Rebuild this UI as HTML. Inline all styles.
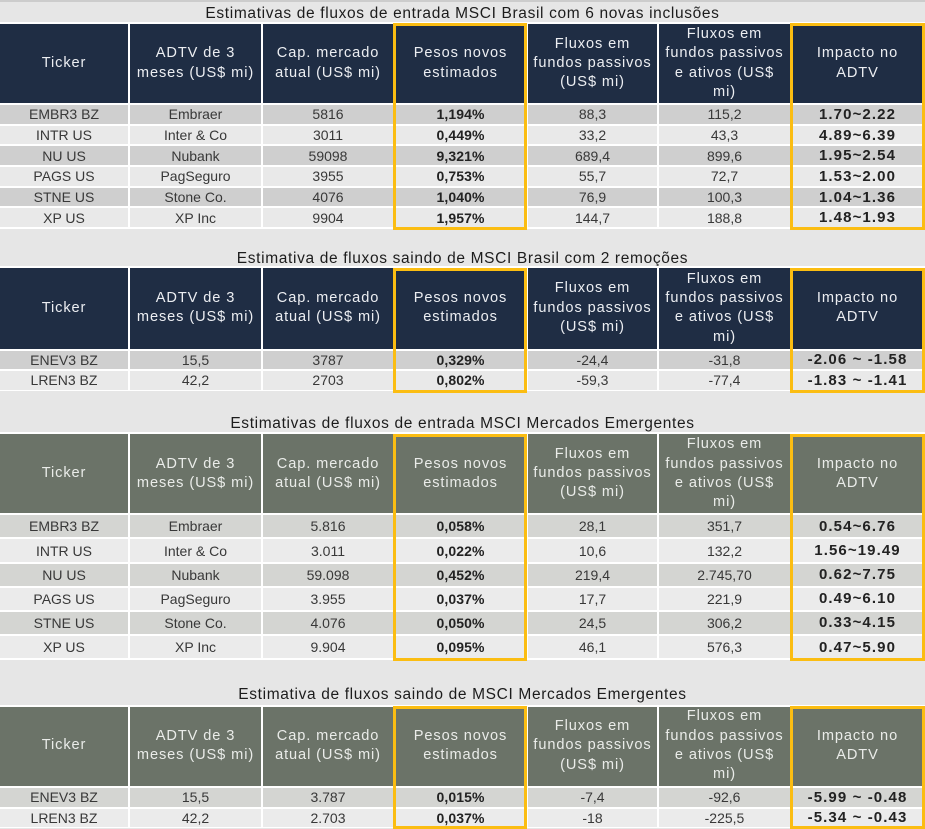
<!DOCTYPE html>
<html><head><meta charset="utf-8">
<style>
*{box-sizing:border-box}
html,body{margin:0;padding:0}
body{width:925px;height:829px;background:#e6e6e6;position:relative;overflow:hidden;font-family:"Liberation Sans",Arial,sans-serif}
.strip{position:absolute;left:0;top:0;width:925px;height:2px;background:#cccccc}
.title{position:absolute;left:0;width:925px;text-align:center;font-size:15.5px;line-height:18px;letter-spacing:0.65px;color:#1c1c1c;white-space:nowrap}
.t{position:absolute;left:0;width:925px;display:grid;grid-template-columns:128px 131px 130px 131px 129px 131px 131px;gap:2px;background:#fff;padding:2px 2px 1.5px 0}
.h{background:#1f2d44;color:#eceef2;display:flex;align-items:center;justify-content:center;text-align:center;font-size:14.6px;letter-spacing:0.9px;line-height:19.3px;white-space:nowrap}
.g .h{background:#6b7368;color:#eaece9}
.c{display:flex;align-items:center;justify-content:center;font-size:14px;color:#383838;white-space:nowrap}
.d{background:#cfcfcf}
.l{background:#e9e9e9}
.g .d{background:#d4d5d2}
.g .l{background:#ebebeb}
.b{font-weight:bold;color:#222;letter-spacing:0.1px}
.i{font-weight:bold;color:#222;font-size:15px;letter-spacing:1.1px}
.y{position:absolute;border:3px solid #fbbd12}
</style></head><body>
<div class="strip"></div>

<div class="title" style="top:5px">Estimativas de fluxos de entrada MSCI Brasil com 6 novas inclusões</div>
<div class="t" style="top:22px;grid-template-rows:79px repeat(6,18.7px)">
<div class="h">Ticker</div><div class="h">ADTV de 3<br>meses (US$ mi)</div><div class="h">Cap. mercado<br>atual (US$ mi)</div><div class="h">Pesos novos<br>estimados</div><div class="h">Fluxos em<br>fundos passivos<br>(US$ mi)</div><div class="h">Fluxos em<br>fundos passivos<br>e ativos (US$<br>mi)</div><div class="h">Impacto no<br>ADTV</div>
<div class="c d">EMBR3 BZ</div><div class="c d">Embraer</div><div class="c d">5816</div><div class="c d b">1,194%</div><div class="c d">88,3</div><div class="c d">115,2</div><div class="c d i">1.70~2.22</div>
<div class="c l">INTR US</div><div class="c l">Inter &amp; Co</div><div class="c l">3011</div><div class="c l b">0,449%</div><div class="c l">33,2</div><div class="c l">43,3</div><div class="c l i">4.89~6.39</div>
<div class="c d">NU US</div><div class="c d">Nubank</div><div class="c d">59098</div><div class="c d b">9,321%</div><div class="c d">689,4</div><div class="c d">899,6</div><div class="c d i">1.95~2.54</div>
<div class="c l">PAGS US</div><div class="c l">PagSeguro</div><div class="c l">3955</div><div class="c l b">0,753%</div><div class="c l">55,7</div><div class="c l">72,7</div><div class="c l i">1.53~2.00</div>
<div class="c d">STNE US</div><div class="c d">Stone Co.</div><div class="c d">4076</div><div class="c d b">1,040%</div><div class="c d">76,9</div><div class="c d">100,3</div><div class="c d i">1.04~1.36</div>
<div class="c l">XP US</div><div class="c l">XP Inc</div><div class="c l">9904</div><div class="c l b">1,957%</div><div class="c l">144,7</div><div class="c l">188,8</div><div class="c l i">1.48~1.93</div>
</div>
<div class="y" style="left:393px;top:23px;width:134px;height:207px"></div>
<div class="y" style="left:790px;top:23px;width:135px;height:207px"></div>

<div class="title" style="top:249.5px">Estimativa de fluxos saindo de MSCI Brasil com 2 remoções</div>
<div class="t" style="top:266px;grid-template-rows:80.5px 18.5px 18.5px">
<div class="h">Ticker</div><div class="h">ADTV de 3<br>meses (US$ mi)</div><div class="h">Cap. mercado<br>atual (US$ mi)</div><div class="h">Pesos novos<br>estimados</div><div class="h">Fluxos em<br>fundos passivos<br>(US$ mi)</div><div class="h">Fluxos em<br>fundos passivos<br>e ativos (US$<br>mi)</div><div class="h">Impacto no<br>ADTV</div>
<div class="c d">ENEV3 BZ</div><div class="c d">15,5</div><div class="c d">3787</div><div class="c d b">0,329%</div><div class="c d">-24,4</div><div class="c d">-31,8</div><div class="c d i">-2.06 ~ -1.58</div>
<div class="c l">LREN3 BZ</div><div class="c l">42,2</div><div class="c l">2703</div><div class="c l b">0,802%</div><div class="c l">-59,3</div><div class="c l">-77,4</div><div class="c l i">-1.83 ~ -1.41</div>
</div>
<div class="y" style="left:393px;top:267.5px;width:134px;height:125px"></div>
<div class="y" style="left:790px;top:267.5px;width:135px;height:125px"></div>

<div class="title" style="top:415px">Estimativas de fluxos de entrada MSCI Mercados Emergentes</div>
<div class="t g" style="top:432.3px;grid-template-rows:79px repeat(6,22.15px)">
<div class="h">Ticker</div><div class="h">ADTV de 3<br>meses (US$ mi)</div><div class="h">Cap. mercado<br>atual (US$ mi)</div><div class="h">Pesos novos<br>estimados</div><div class="h">Fluxos em<br>fundos passivos<br>(US$ mi)</div><div class="h">Fluxos em<br>fundos passivos<br>e ativos (US$<br>mi)</div><div class="h">Impacto no<br>ADTV</div>
<div class="c d">EMBR3 BZ</div><div class="c d">Embraer</div><div class="c d">5.816</div><div class="c d b">0,058%</div><div class="c d">28,1</div><div class="c d">351,7</div><div class="c d i">0.54~6.76</div>
<div class="c l">INTR US</div><div class="c l">Inter &amp; Co</div><div class="c l">3.011</div><div class="c l b">0,022%</div><div class="c l">10,6</div><div class="c l">132,2</div><div class="c l i">1.56~19.49</div>
<div class="c d">NU US</div><div class="c d">Nubank</div><div class="c d">59.098</div><div class="c d b">0,452%</div><div class="c d">219,4</div><div class="c d">2.745,70</div><div class="c d i">0.62~7.75</div>
<div class="c l">PAGS US</div><div class="c l">PagSeguro</div><div class="c l">3.955</div><div class="c l b">0,037%</div><div class="c l">17,7</div><div class="c l">221,9</div><div class="c l i">0.49~6.10</div>
<div class="c d">STNE US</div><div class="c d">Stone Co.</div><div class="c d">4.076</div><div class="c d b">0,050%</div><div class="c d">24,5</div><div class="c d">306,2</div><div class="c d i">0.33~4.15</div>
<div class="c l">XP US</div><div class="c l">XP Inc</div><div class="c l">9.904</div><div class="c l b">0,095%</div><div class="c l">46,1</div><div class="c l">576,3</div><div class="c l i">0.47~5.90</div>
</div>
<div class="y" style="left:393px;top:433.5px;width:134px;height:227.5px"></div>
<div class="y" style="left:790px;top:433.5px;width:135px;height:227.5px"></div>

<div class="title" style="top:686px">Estimativa de fluxos saindo de MSCI Mercados Emergentes</div>
<div class="t g" style="top:704.5px;grid-template-rows:79px 19.2px 18.3px">
<div class="h">Ticker</div><div class="h">ADTV de 3<br>meses (US$ mi)</div><div class="h">Cap. mercado<br>atual (US$ mi)</div><div class="h">Pesos novos<br>estimados</div><div class="h">Fluxos em<br>fundos passivos<br>(US$ mi)</div><div class="h">Fluxos em<br>fundos passivos<br>e ativos (US$<br>mi)</div><div class="h">Impacto no<br>ADTV</div>
<div class="c d">ENEV3 BZ</div><div class="c d">15,5</div><div class="c d">3.787</div><div class="c d b">0,015%</div><div class="c d">-7,4</div><div class="c d">-92,6</div><div class="c d i">-5.99 ~ -0.48</div>
<div class="c l">LREN3 BZ</div><div class="c l">42,2</div><div class="c l">2.703</div><div class="c l b">0,037%</div><div class="c l">-18</div><div class="c l">-225,5</div><div class="c l i">-5.34 ~ -0.43</div>
</div>
<div class="y" style="left:393px;top:706px;width:134px;height:123px"></div>
<div class="y" style="left:790px;top:706px;width:135px;height:123px"></div>
</body></html>
